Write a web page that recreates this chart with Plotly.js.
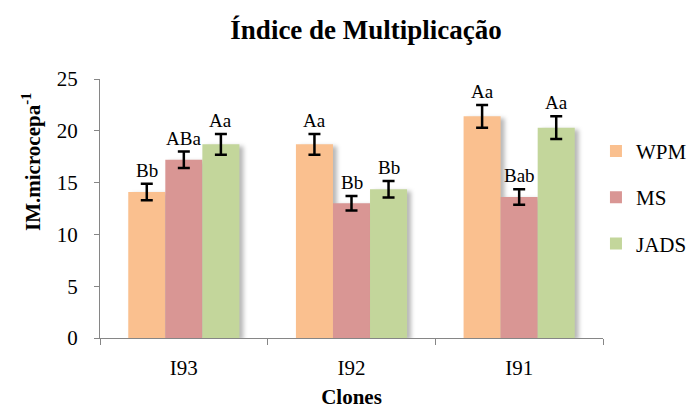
<!DOCTYPE html>
<html>
<head>
<meta charset="utf-8">
<script src="https://cdn.plot.ly/plotly-3.0.1.min.js"></script>
<style>
  html, body { margin: 0; padding: 0; background: #fff; }
  #chart { width: 696px; height: 409px; }
  /* soft drop shadow to the right of every bar */
  .trace.bars .point path { filter: drop-shadow(4px 2px 2px rgba(0,0,0,0.28)); }
</style>
</head>
<body>
<div id="chart"></div>
<script>
// Clones on the x axis
const clones = ['I93', 'I92', 'I91'];

// Multiplication index per culture medium (mean)
const wpm  = [14.1, 18.7, 21.4];
const ms   = [17.2, 13.0, 13.6];
const jads = [18.7, 14.35, 20.3];

// Standard error of each mean
const wpmErr  = [0.8, 1.0, 1.1];
const msErr   = [0.8, 0.7, 0.75];
const jadsErr = [1.0, 0.8, 1.1];

// Significance letters shown above each bar
const wpmLetters  = ['Bb', 'Aa', 'Aa'];
const msLetters   = ['ABa', 'Bb', 'Bab'];
const jadsLetters = ['Aa', 'Bb', 'Aa'];

const FONT = 'Liberation Serif';

const series = [
  { name: 'WPM',  y: wpm,  err: wpmErr,  letters: wpmLetters,  color: '#FAC08F' },
  { name: 'MS',   y: ms,   err: msErr,   letters: msLetters,   color: '#D99694' },
  { name: 'JADS', y: jads, err: jadsErr, letters: jadsLetters, color: '#C3D69B' }
];

const traces = series.map((s, i) => ({
  type: 'bar',
  name: s.name,
  x: clones,
  y: s.y,
  offsetgroup: String(i),
  legendgroup: s.name,
  marker: { color: s.color, line: { width: 0 } },
  error_y: { type: 'data', array: s.err, visible: true, color: '#000', thickness: 2.5, width: 6 },
  hoverinfo: 'x+y'
}));

// letters sit just above the top of each error bar, over their own bar
const nSeries = series.length;
const groupFrac = 1 - 0.337;
const annotations = [];
series.forEach((s, i) => {
  const shift = (i - (nSeries - 1) / 2) * groupFrac / nSeries;
  s.y.forEach((v, j) => {
    annotations.push({
      xref: 'x', yref: 'y',
      x: j + shift,
      y: v + s.err[j],
      text: s.letters[j],
      showarrow: false,
      yanchor: 'bottom',
      yshift: 1,
      font: { family: FONT, size: 19, color: '#000' }
    });
  });
});

// y-axis title, set a little above the middle of the axis
annotations.push({
  xref: 'paper', yref: 'paper',
  x: -0.135, y: 0.68,
  xanchor: 'center', yanchor: 'middle',
  textangle: -90,
  showarrow: false,
  text: '<b>IM.microcepa<sup>-1</sup></b>',
  font: { family: FONT, size: 21, color: '#000' }
});

const layout = {
  width: 696,
  height: 409,
  margin: { l: 100, r: 93, t: 79, b: 71, autoexpand: false },
  paper_bgcolor: '#fff',
  plot_bgcolor: '#fff',
  font: { family: FONT, color: '#000' },
  showlegend: true,
  title: {
    text: '<b>Índice de Multiplicação</b>',
    x: 0.526, xanchor: 'center',
    y: 0.928, yanchor: 'middle',
    font: { family: FONT, size: 27, color: '#000' }
  },
  barmode: 'group',
  bargap: 0.337,
  bargroupgap: 0,
  xaxis: {
    type: 'category',
    range: [-0.5, 2.5],
    showline: true, linecolor: '#868686', linewidth: 1,
    ticks: 'outside', ticklen: 6, tickcolor: '#868686',
    tickson: 'boundaries',
    showgrid: false, zeroline: false,
    ticklabelstandoff: 11,
    tickfont: { family: FONT, size: 21, color: '#000' },
    title: { text: '<b>Clones</b>', standoff: 24, font: { family: FONT, size: 21, color: '#000' } }
  },
  yaxis: {
    range: [0, 25],
    dtick: 5,
    showline: true, linecolor: '#868686', linewidth: 1,
    ticks: 'outside', ticklen: 5, tickcolor: '#868686',
    showgrid: false, zeroline: false,
    ticklabelstandoff: 12,
    tickfont: { family: FONT, size: 21, color: '#000' }
  },
  legend: {
    x: 0.986, xanchor: 'left',
    y: 0.80, yanchor: 'top',
    traceorder: 'grouped',
    tracegroupgap: 16,
    font: { family: FONT, size: 21, color: '#000' },
    bgcolor: 'rgba(0,0,0,0)'
  },
  annotations: annotations
};

Plotly.newPlot('chart', traces, layout, { displayModeBar: false, staticPlot: true });
</script>
</body>
</html>
